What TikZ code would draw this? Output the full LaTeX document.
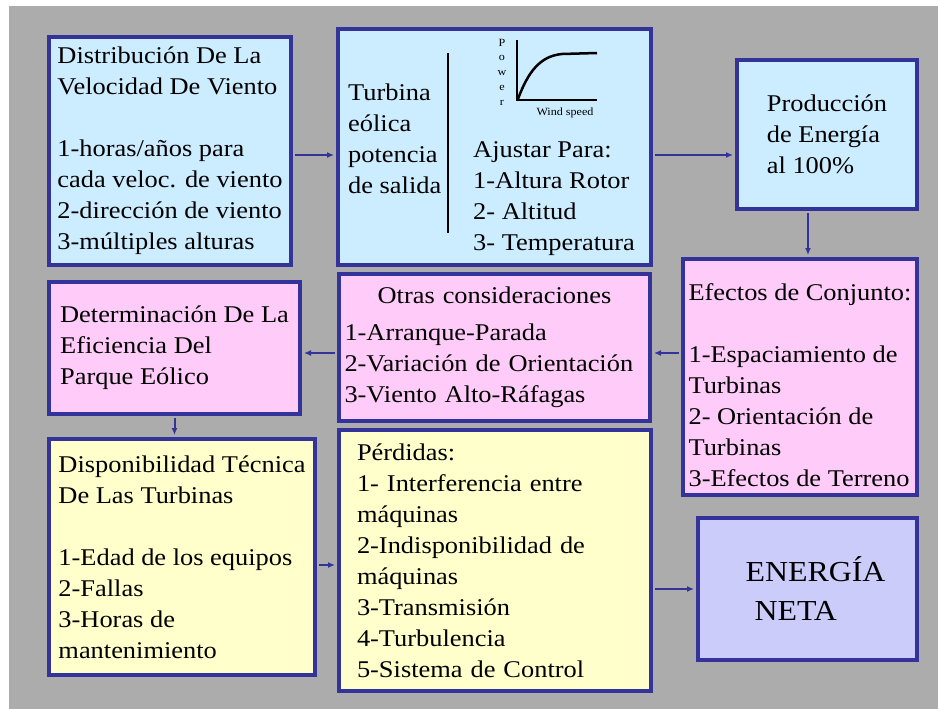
\documentclass[tikz,border=0pt]{standalone}
\usepackage{fontspec}
\setmainfont{Liberation Serif}[FakeStretch=1.1]
\usetikzlibrary{positioning, arrows.meta}

\definecolor{fondo}{RGB}{172,172,172}
\definecolor{borde}{RGB}{51,51,153}
\definecolor{celeste}{RGB}{204,236,255}
\definecolor{rosa}{RGB}{255,204,250}
\definecolor{crema}{RGB}{255,255,204}
\definecolor{lila}{RGB}{204,204,250}

\begin{document}
\begin{tikzpicture}[
        x=1pt, y=-1pt,
        font=\fontsize{24}{31}\selectfont,
        >={Latex[length=7pt,width=6pt]},
        % Styles
        caja/.style={% For the boxes
            rectangle,
            draw=borde,
            line width=4pt,
            inner sep=0pt,
            align=left,
            },
        texto/.style={% Loose text inside a box
            align=left,
            inner sep=0pt,
            anchor=west,
            },
        flecha/.style={% Arrows between boxes
            ->,
            draw=borde,
            line width=2pt,
            shorten <=2pt,
            shorten >=2pt,
            },
        eje/.style={% Axes and curve of the little chart
            line width=2.5pt,
            },
        mini/.style={% Tiny labels of the chart
            font=\fontsize{11}{11}\selectfont,
            inner sep=0pt,
            },
        ]

    % Background
        \useasboundingbox (0,0) rectangle (938,709);
        \fill [white] (0,0) rectangle (938,709);
        \fill [fondo] (9,6) rectangle (938,709);

    % Nodes
        % Top row
        \node [caja, fill=celeste, minimum width=242pt, minimum height=228pt] (velocidad) at (170,151)
            {Distribución De La\\Velocidad De Viento\\[31pt]1-horas/años para\\cada veloc. de viento\\2-dirección de viento\\3-múltiples alturas};
        \node [caja, fill=celeste, minimum width=313pt, minimum height=236pt] (turbina) at (494.5,147) {};
        \node [caja, fill=celeste, minimum width=180pt, minimum height=149pt] (produccion) at (827,134.5)
            {Producción\\de Energía\\al 100\%};

        % Inside the turbine box
        \node [texto] (salida) at (348,139) {Turbina\\eólica\\potencia\\de salida};
        \draw [line width=2pt] (448,53) -- (448,233);
        \draw [eje] (517,40) -- (517,100) -- (597,100);
        \draw [eje] (518,99) .. controls (528,72) and (540,56) .. (562,54) -- (597,53);
        \foreach \letra [count=\i] in {P,o,w,e,r}
            \node [mini] (power\i) at (502,28+15*\i) {\letra};
        \node [mini] (viento) at (565,113) {Wind speed};
        \node [texto] (ajustar) at (473,199) {Ajustar Para:\\1-Altura Rotor\\2- Altitud\\3- Temperatura};

        % Middle row
        \node [caja, fill=rosa, minimum width=251pt, minimum height=132pt] (eficiencia) at (174.5,348)
            {Determinación De La\\Eficiencia Del\\Parque Eólico};
        \node [caja, fill=rosa, minimum width=311pt, minimum height=147pt, text width=300pt] (otras) at (494.5,347.5)
            {\hfill Otras consideraciones\hfill\null\\[6pt]1-Arranque-Parada\\2-Variación de Orientación\\3-Viento Alto-Ráfagas};
        \node [caja, fill=rosa, minimum width=234pt, minimum height=236pt] (conjunto) at (800,377)
            {\rule{0pt}{33pt}Efectos de Conjunto:\\[31pt]1-Espaciamiento de\\Turbinas\\2- Orientación de\\Turbinas\\3-Efectos de Terreno};

        % Bottom row
        \node [caja, fill=crema, minimum width=266pt, minimum height=236pt] (disponibilidad) at (182,557)
            {Disponibilidad Técnica\\De Las Turbinas\\[31pt]1-Edad de los equipos\\2-Fallas\\3-Horas de\\mantenimiento};
        \node [caja, fill=crema, minimum width=312pt, minimum height=261pt, text width=276pt] (perdidas) at (495,560.5)
            {Pérdidas:\\1- Interferencia entre\\máquinas\\2-Indisponibilidad de\\máquinas\\3-Transmisión\\4-Turbulencia\\5-Sistema de Control};
        \node [caja, fill=lila, minimum width=219pt, minimum height=142pt, font=\fontsize{29}{39}\selectfont] (neta) at (807.5,589)
            {\hspace*{16pt}ENERGÍA\\\hspace*{25pt}NETA};

    % Connections
        \draw [flecha] ([yshift=-4pt]velocidad.east) -- ([yshift=-4pt]velocidad.east -| turbina.west);
        \draw [flecha] ([yshift=-8pt]turbina.east) -- ([yshift=-8pt]turbina.east -| produccion.west);
        \draw [flecha] ([xshift=-19pt]produccion.south) -- ([xshift=-19pt]produccion.south |- conjunto.north);
        \draw [flecha] ([yshift=-5.5pt]otras.east -| conjunto.west) -- ([yshift=-5.5pt]otras.east);
        \draw [flecha] ([yshift=-5.5pt]otras.west) -- ([yshift=-5.5pt]otras.west -| eficiencia.east);
        \draw [flecha] (eficiencia.south) -- (eficiencia.south |- disponibilidad.north);
        \draw [flecha] ([yshift=-8pt]disponibilidad.east) -- ([yshift=-8pt]disponibilidad.east -| perdidas.west);
        \draw [flecha] (neta.west -| perdidas.east) -- (neta.west);

\end{tikzpicture}
\end{document}
